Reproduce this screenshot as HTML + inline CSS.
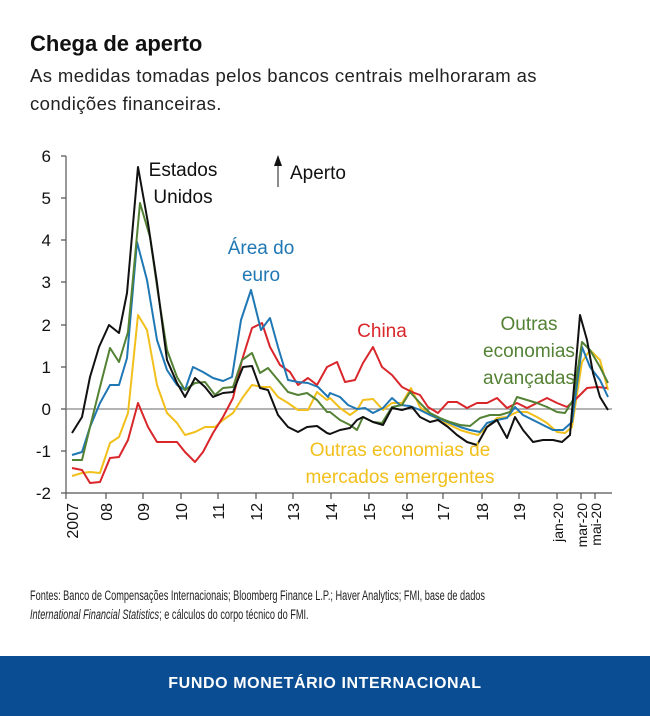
<!DOCTYPE html>
<html><head><meta charset="utf-8"><style>
body{margin:0;width:650px;height:716px;background:#fff;overflow:hidden;position:relative;font-family:"Liberation Sans",sans-serif}
.t{position:absolute;left:30px;top:31px;font-size:22px;font-weight:bold;color:#111}
.s{position:absolute;left:30px;top:62px;font-size:18.5px;line-height:28px;color:#222;letter-spacing:0.4px}
.src{position:absolute;left:30px;top:586px;font-size:13.5px;line-height:19px;color:#222;transform:scaleX(0.68);transform-origin:left;white-space:nowrap}
.band{position:absolute;left:0;top:656px;width:650px;height:60px;background:#0b4d93;color:#fff;font-weight:bold;font-size:16px;text-align:center;line-height:56px;letter-spacing:0.6px}
svg{position:absolute;left:0;top:0}
</style></head><body>
<div class="t">Chega de aperto</div>
<div class="s">As medidas tomadas pelos bancos centrais melhoraram as<br>condições financeiras.</div>
<svg width="650" height="580" font-family="Liberation Sans, sans-serif">
<g stroke="#555" stroke-width="1.2" fill="none">
<line x1="66" y1="156" x2="66" y2="493"/>
<line x1="66" y1="493" x2="612" y2="493"/>
<line x1="66" y1="409" x2="612" y2="409" stroke="#888"/>
<path d="M61 156H66M61 198H66M61 240H66M61 282H66M61 325H66M61 367H66M61 409H66M61 451H66M61 493H66"/>
<path d="M66 493V499M106 493V499M143 493V499M181 493V499M218 493V499M256 493V499M293 493V499M331 493V499M369 493V499M407 493V499M443 493V499M482 493V499M519 493V499M557 493V499M581 493V499M595 493V499"/>
</g>
<g font-size="17" fill="#111" text-anchor="end">
<text x="51" y="162">6</text><text x="51" y="204">5</text><text x="51" y="246">4</text><text x="51" y="288">3</text><text x="51" y="331">2</text><text x="51" y="373">1</text><text x="51" y="415">0</text><text x="51" y="457">-1</text><text x="51" y="499">-2</text>
</g>
<g font-size="16" fill="#111" text-anchor="end">
<text transform="translate(78,503) rotate(-90)">2007</text>
<text transform="translate(112,503) rotate(-90)">08</text>
<text transform="translate(149,503) rotate(-90)">09</text>
<text transform="translate(187,503) rotate(-90)">10</text>
<text transform="translate(224,503) rotate(-90)">11</text>
<text transform="translate(262,503) rotate(-90)">12</text>
<text transform="translate(299,503) rotate(-90)">13</text>
<text transform="translate(337,503) rotate(-90)">14</text>
<text transform="translate(375,503) rotate(-90)">15</text>
<text transform="translate(413,503) rotate(-90)">16</text>
<text transform="translate(449,503) rotate(-90)">17</text>
<text transform="translate(488,503) rotate(-90)">18</text>
<text transform="translate(525,503) rotate(-90)">19</text>
</g>
<g font-size="14" fill="#111" text-anchor="end">
<text transform="translate(563,503) rotate(-90)">jan-20</text>
<text transform="translate(587,503) rotate(-90)">mar-20</text>
<text transform="translate(601,503) rotate(-90)">mai-20</text>
</g>
<g fill="none" stroke-width="2" stroke-linejoin="round">
<polyline stroke="#f2c01c" points="72,476 82,473 90,472 100,473 110,443 119,437 128,413 138,315 147,330 157,385 167,413 177,423 185,435 195,432 205,427 215,427 223,420 233,413 243,397 252,385 262,387 270,387 278,397 288,403 298,410 308,410 317,392 327,400 330,398 340,408 350,415 357,410 363,400 373,399 383,410 392,403 402,403 411,388 420,407 430,415 440,420 450,425 460,430 470,433 478,435 487,427 497,418 507,417 517,412 527,412 537,417 547,423 557,432 565,433 572,427 582,362 590,350 600,360 608,390"/>
<polyline stroke="#d9262b" points="72,468 82,470 90,483 100,482 110,458 119,457 128,440 138,403 148,427 157,442 167,442 177,442 185,452 195,462 203,452 213,433 223,417 233,398 242,360 252,328 262,323 270,347 280,365 290,372 298,385 308,378 317,385 327,367 337,362 345,382 355,380 363,363 373,347 382,367 392,375 402,387 412,392 420,395 428,407 438,413 448,402 457,402 467,408 477,403 487,403 497,398 507,408 517,403 527,408 537,403 547,398 557,403 567,407 577,398 587,388 597,387 607,388"/>
<polyline stroke="#1f77b4" points="72,455 82,452 90,427 100,403 110,385 119,385 127,358 137,242 147,280 157,340 167,370 177,385 185,390 193,367 203,372 213,378 223,381 232,377 241,320 251,290 261,330 270,318 278,347 288,380 298,382 308,383 318,387 328,397 330,393 340,397 348,405 357,409 365,408 373,413 383,408 392,398 400,405 410,406 420,410 430,415 440,419 450,423 460,427 470,430 480,432 487,423 497,420 507,418 515,407 523,415 533,420 543,425 553,430 563,430 572,422 582,347 590,367 600,380 608,397"/>
<polyline stroke="#548235" points="72,460 82,460 90,427 100,387 110,348 119,362 128,332 140,203 150,237 158,293 167,350 177,377 185,390 195,383 205,382 215,395 223,388 233,387 242,360 252,353 260,373 268,368 278,380 288,392 298,395 307,393 317,400 327,412 330,412 340,420 350,425 357,430 363,417 373,422 382,423 392,407 402,405 410,392 420,403 430,413 440,418 450,422 460,425 470,426 480,418 490,415 500,415 510,412 517,397 527,400 537,403 547,407 557,412 565,413 573,400 582,342 590,350 600,367 608,383"/>
<polyline stroke="#111" points="72,433 82,417 90,377 99,347 109,325 119,333 127,293 138,167 148,223 157,283 167,360 177,383 185,397 195,378 205,387 213,397 223,393 233,392 243,367 252,366 260,388 268,390 278,415 288,427 298,432 307,427 317,426 327,433 330,434 340,430 350,428 357,420 363,417 373,422 383,425 392,408 402,410 412,407 420,417 430,422 438,420 448,427 457,435 467,442 477,445 487,427 497,420 507,438 515,417 523,430 533,442 543,440 553,440 562,442 570,435 580,315 587,340 593,373 600,397 608,410"/>
</g>
<g font-size="19" text-anchor="middle">
<text x="183" y="176" fill="#111">Estados</text><text x="183" y="203" fill="#111">Unidos</text>
<text x="261" y="254" fill="#1f77b4">Área do</text><text x="261" y="281" fill="#1f77b4">euro</text>
<text x="382" y="337" fill="#d9262b">China</text>
<text x="529" y="330" fill="#548235">Outras</text><text x="529" y="357" fill="#548235">economias</text><text x="529" y="384" fill="#548235">avançadas</text>
<text x="400" y="456" fill="#f2c01c">Outras economias de</text><text x="400" y="483" fill="#f2c01c">mercados emergentes</text>
<text x="318" y="179" fill="#111">Aperto</text>
</g>
<line x1="278" y1="187" x2="278" y2="165" stroke="#666" stroke-width="1.5"/>
<polygon points="274,166 282,166 278,155" fill="#111"/>
</svg>
<div class="src">Fontes: Banco de Compensações Internacionais; Bloomberg Finance L.P.; Haver Analytics; FMI, base de dados<br><i>International Financial Statistics</i>; e cálculos do corpo técnico do FMI.</div>
<div class="band">FUNDO MONETÁRIO INTERNACIONAL</div>
</body></html>
